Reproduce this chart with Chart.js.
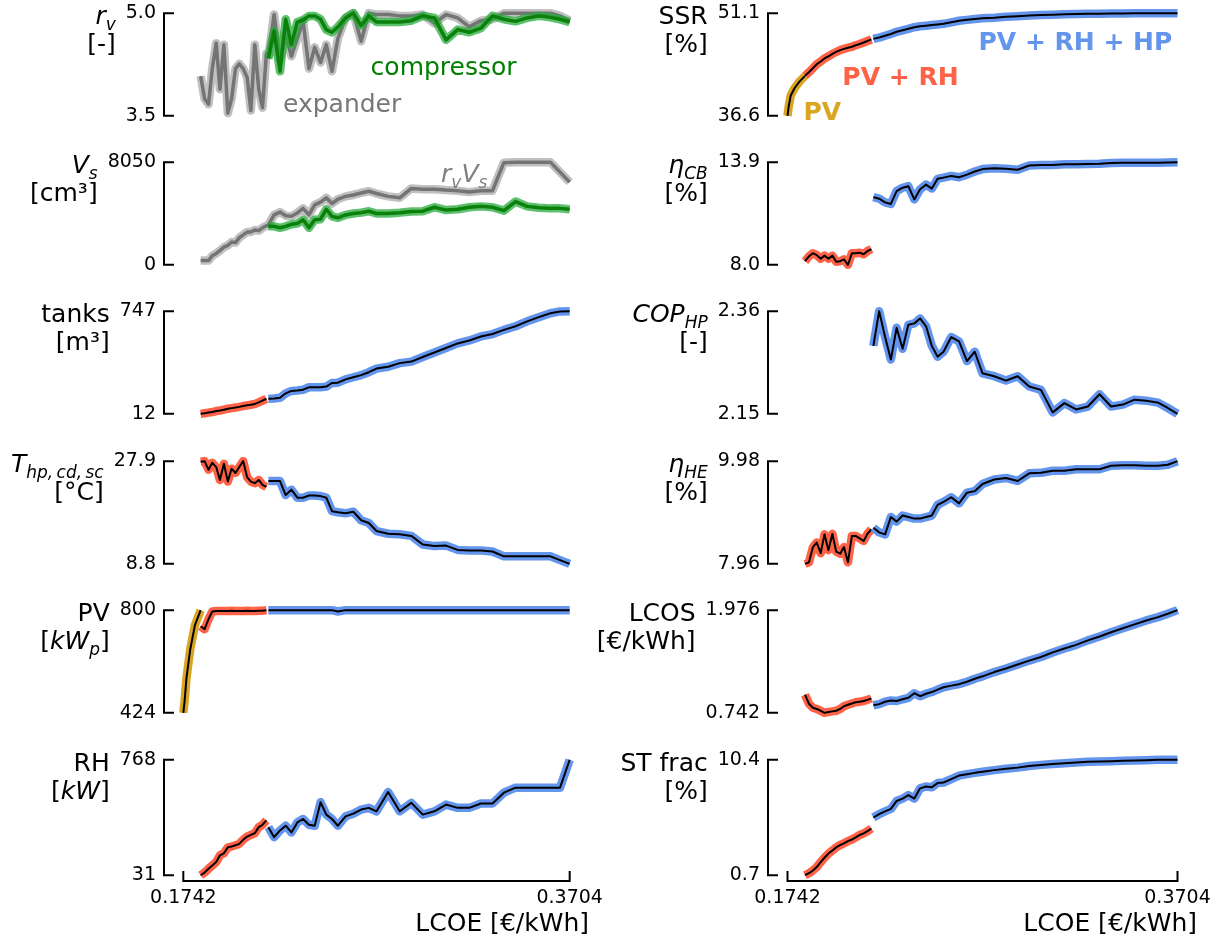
<!DOCTYPE html>
<html lang="en">
<head>
<meta charset="UTF-8">
<title>Pareto front vs LCOE</title>
<script src="https://cdn.jsdelivr.net/npm/chart.js"></script>
<style>
  body { margin: 0; background: #fff; }
  #fig { position: relative; width: 1222px; height: 939px; overflow: hidden; }
</style>
</head>
<body>
<div id="fig"></div>
<script>
// LCOE of the designs on the front, per technology stage
const lcoePV = [0.1742, 0.1748, 0.1758, 0.1777, 0.1801, 0.1830];
const lcoeRH = [0.1830, 0.1850, 0.1870, 0.1889, 0.1909, 0.1928, 0.1948, 0.1968, 0.1987, 0.2007,
  0.2026, 0.2046, 0.2066, 0.2085, 0.2105, 0.2125, 0.2144, 0.2164];
const lcoeHP = [0.2174, 0.2203, 0.2233, 0.2262, 0.2291, 0.2321, 0.2350, 0.2380, 0.2409, 0.2439,
  0.2468, 0.2497, 0.2527, 0.2566, 0.2605, 0.2645, 0.2684, 0.2723, 0.2782, 0.2841,
  0.2900, 0.2958, 0.3017, 0.3076, 0.3135, 0.3194, 0.3253, 0.3312, 0.3370, 0.3429,
  0.3488, 0.3547, 0.3606, 0.3655, 0.3704];
const xTicks = [0.1742, 0.3704];
const xTickLabels = ['0.1742', '0.3704'];

// volume ratio
const rvExpRH = [4.08, 3.75, 3.67, 4.19, 4.56, 3.89, 4.54, 3.54, 3.75, 4.19, 4.26, 4.19, 4.06, 3.58, 4.54, 3.89, 3.62, 4.41];
const rvExpHP = [4.37, 4.98, 4.32, 4.67, 4.37, 4.63, 4.89, 4.19, 4.50, 4.28, 4.54, 4.15, 4.63, 4.93, 5.0, 4.59, 5.0, 4.98,
  4.98, 4.96, 4.96, 4.98, 4.85, 4.98, 4.93, 4.80, 4.89, 4.91, 5.0, 5.0, 5.0, 5.0, 5.0, 4.96, 4.89];
const rvComp = [4.34, 4.74, 4.15, 4.91, 4.54, 4.87, 4.90, 4.96, 4.96, 4.91, 4.76, 4.72, 4.80, 4.93, 5.0, 4.82, 4.96, 4.87,
  4.87, 4.87, 4.89, 4.96, 4.93, 4.61, 4.76, 4.72, 4.78, 4.96, 4.91, 4.88, 4.93, 4.96, 4.94, 4.91, 4.87];
const rvTicks = [3.5, 5.0], rvTickLabels = ['3.5', '5.0'];

// swept volume
const vsExpRH = [335, 335, 335, 716, 894, 1118, 1386, 1520, 1789, 1744, 2124, 2348, 2571, 2571, 2728, 2683, 2907, 3063];
const vsExpHP = [3130, 3913, 4137, 3846, 3801, 4070, 4427, 3913, 4696, 4919, 5255, 4807, 5143, 5366, 5478, 5635, 5769, 5590,
  5366, 5255, 5992, 5925, 5925, 5858, 5814, 5702, 5814, 5814, 8005, 8050, 8050, 8050, 8050, 7267, 6484];
const vsComp = [3019, 3019, 2907, 3019, 3175, 3242, 3533, 2907, 3533, 3578, 4360, 3801, 3689, 3913, 4025, 4092, 4204, 4025,
  4025, 4092, 4181, 4204, 4517, 4293, 4360, 4517, 4584, 4517, 4248, 4964, 4584, 4472, 4427, 4427, 4360];
const vsTicks = [0, 8050], vsTickLabels = ['0', '8050'];

// tanks volume
const tanksRH = [12, 16, 21, 25, 32, 36, 42, 49, 53, 57, 62, 68, 73, 77, 83, 94, 107, 120];
const tanksHP = [120, 122, 127, 159, 176, 179, 185, 202, 202, 202, 207, 233, 235, 259, 274, 289, 310, 336,
  349, 375, 386, 419, 451, 483, 516, 537, 566, 583, 613, 639, 674, 704, 732, 745, 747];
const tanksTicks = [12, 747], tanksTickLabels = ['12', '747'];

// heat pump subcooling temperature
const tempRH = [27.8, 27.9, 26.3, 27.6, 26.8, 24.4, 27.4, 24.1, 26.5, 25.7, 26.8, 27.9, 24.9, 24.1, 23.8, 24.4, 23.5, 23.1];
const tempHP = [24.2, 24.2, 24.2, 21.6, 22.6, 21.1, 21.1, 21.5, 21.5, 21.4, 21.1, 18.6, 18.4, 18.2, 18.5, 16.9, 16.4, 14.9,
  14.4, 14.3, 14.0, 12.4, 12.1, 12.2, 11.4, 11.3, 11.3, 11.1, 10.2, 10.2, 10.2, 10.2, 10.2, 9.5, 8.8];
const tempTicks = [8.8, 27.9], tempTickLabels = ['8.8', '27.9'];

// PV peak power
const pvPV = [424, 463, 551, 656, 745, 800];
const pvRH = [741, 730, 767, 795, 797, 797, 797, 797, 798, 797, 797, 797, 798, 797, 797, 798, 798, 800];
const pvHP = [800, 800, 800, 800, 800, 800, 800, 800, 800, 800, 800, 800, 795, 800, 800, 800, 800, 800,
  800, 800, 800, 800, 800, 800, 800, 800, 800, 800, 800, 800, 800, 800, 800, 800, 800];
const pvTicks = [424, 800], pvTickLabels = ['424', '800'];

// resistance heater power
const rhRH = [31, 48, 72, 93, 115, 158, 171, 209, 214, 222, 231, 257, 278, 289, 300, 338, 353, 381];
const rhHP = [338, 274, 317, 347, 304, 368, 390, 353, 347, 497, 418, 390, 347, 407, 424, 450, 461, 439,
  562, 439, 493, 418, 439, 482, 461, 461, 489, 489, 558, 590, 590, 590, 590, 590, 768];
const rhTicks = [31, 768], rhTickLabels = ['31', '768'];

// self-sufficiency ratio
const ssrPV = [36.6, 37.9, 39.45, 40.5, 41.4, 42.25];
const ssrRH = [42.25, 42.77, 43.33, 43.89, 44.28, 44.71, 45.01, 45.36, 45.62, 45.88, 46.05, 46.22, 46.35, 46.57, 46.74, 46.96, 47.17, 47.39];
const ssrHP = [47.47, 47.65, 47.91, 48.16, 48.47, 48.68, 48.89, 49.11, 49.24, 49.33, 49.42, 49.50, 49.59, 49.80, 50.02, 50.15, 50.28, 50.37,
  50.45, 50.58, 50.67, 50.75, 50.84, 50.88, 50.93, 50.97, 51.01, 51.01, 51.06, 51.06, 51.08, 51.09, 51.1, 51.1, 51.1];
const ssrTicks = [36.6, 51.1], ssrTickLabels = ['36.6', '51.1'];

// Carnot battery efficiency
const etaCbRH = [8.21, 8.49, 8.67, 8.56, 8.35, 8.53, 8.35, 8.53, 8.18, 8.21, 8.32, 8.0, 8.67, 8.67, 8.70, 8.61, 8.79, 8.91];
const etaCbHP = [11.89, 11.80, 11.59, 11.50, 12.24, 12.43, 12.52, 11.76, 12.34, 12.61, 12.38, 12.94, 13.01, 13.11, 13.03, 13.18, 13.36, 13.50,
  13.55, 13.52, 13.46, 13.71, 13.74, 13.74, 13.78, 13.78, 13.80, 13.81, 13.85, 13.87, 13.87, 13.87, 13.87, 13.88, 13.9];
const etaCbTicks = [8.0, 13.9], etaCbTickLabels = ['8.0', '13.9'];

// heat pump COP
const copHP = [2.289, 2.36, 2.307, 2.261, 2.326, 2.283, 2.332, 2.335, 2.345, 2.329, 2.289, 2.267, 2.277, 2.307, 2.298, 2.258, 2.277, 2.233,
  2.227, 2.218, 2.227, 2.206, 2.199, 2.153, 2.172, 2.159, 2.165, 2.19, 2.165, 2.169, 2.179, 2.177, 2.173, 2.162, 2.15];
const copTicks = [2.15, 2.36], copTickLabels = ['2.15', '2.36'];

// heat engine efficiency
const etaHeRH = [7.96, 7.99, 8.29, 8.38, 8.17, 8.54, 8.23, 8.55, 8.20, 8.16, 8.29, 7.99, 8.51, 8.51, 8.46, 8.41, 8.55, 8.64];
const etaHeHP = [8.67, 8.58, 8.54, 8.88, 8.79, 8.91, 8.88, 8.85, 8.85, 8.88, 8.91, 9.12, 9.18, 9.27, 9.15, 9.36, 9.39, 9.53,
  9.62, 9.65, 9.59, 9.74, 9.75, 9.79, 9.79, 9.82, 9.82, 9.82, 9.89, 9.90, 9.90, 9.89, 9.89, 9.91, 9.98];
const etaHeTicks = [7.96, 9.98], etaHeTickLabels = ['7.96', '9.98'];

// levelized cost of storage
const lcosRH = [0.960, 0.851, 0.804, 0.789, 0.767, 0.742, 0.753, 0.760, 0.767, 0.789, 0.822, 0.840, 0.855, 0.869, 0.876, 0.884, 0.898, 0.916];
const lcosHP = [0.833, 0.847, 0.876, 0.891, 0.884, 0.905, 0.923, 0.978, 0.942, 0.971, 0.992, 1.021, 1.050, 1.069, 1.087, 1.116, 1.152, 1.181,
  1.232, 1.275, 1.323, 1.370, 1.413, 1.468, 1.515, 1.559, 1.613, 1.660, 1.711, 1.758, 1.805, 1.852, 1.892, 1.932, 1.976];
const lcosTicks = [0.742, 1.976], lcosTickLabels = ['0.742', '1.976'];

// storage fraction
const stRH = [0.7, 0.87, 1.10, 1.39, 1.80, 2.17, 2.52, 2.78, 3.04, 3.24, 3.38, 3.56, 3.70, 3.88, 4.08, 4.22, 4.40, 4.63];
const stHP = [5.55, 5.84, 6.07, 6.27, 6.94, 7.14, 7.43, 7.14, 8.00, 8.15, 8.09, 8.44, 8.49, 8.78, 9.07, 9.19, 9.30, 9.39,
  9.53, 9.65, 9.74, 9.88, 9.97, 10.05, 10.11, 10.17, 10.23, 10.26, 10.28, 10.31, 10.34, 10.37, 10.40, 10.40, 10.40];
const stTicks = [0.7, 10.4], stTickLabels = ['0.7', '10.4'];

const FONT = '"DejaVu Sans", sans-serif';
Chart.defaults.font.family = FONT;
Chart.defaults.color = '#000';

const C_PV = '#DAA520', C_RH = '#FF6347', C_HP = '#6495ED';
const X_LO = xTicks[0], X_HI = xTicks[1];
const TICK = 10;
const THIN = '\u2009';

function pts(x, y) { return x.map((v, i) => ({ x: v, y: y[i] })); }
function line(data, color, width) {
  return { data, borderColor: color, borderWidth: width, pointRadius: 0, tension: 0, fill: false,
    clip: false, borderJoinStyle: 'round', borderCapStyle: 'butt' };
}
// thick coloured band with the thin black curve on top
function band(x, y, color) { return [line(pts(x, y), color, 8.5), line(pts(x, y), '#000', 2)]; }
// grey / green curves with a light halo
function halo(x, y, inner, outer) { return [line(pts(x, y), outer, 8.5), line(pts(x, y), inner, 3.5)]; }

const GRAY = ['#747474', 'rgba(150,150,150,0.6)'];
const GREEN = ['#0b800b', 'rgba(40,170,60,0.75)'];

const panels = [
  { col: 0, row: 0, yTicks: rvTicks, yLabels: rvTickLabels,
    title: [{ t: 'r', i: 1 }, { t: 'v', i: 1, s: 1 }], unit: [{ t: '[-]' }],
    series: [halo(lcoeRH.concat(lcoeHP), rvExpRH.concat(rvExpHP), ...GRAY), halo(lcoeHP, rvComp, ...GREEN)],
    notes: [{ runs: [{ t: 'compressor' }], x: 0.2693, y: 4.10, color: '#008000' },
            { runs: [{ t: 'expander' }], x: 0.2248, y: 3.55, color: '#777777' }] },
  { col: 0, row: 1, yTicks: vsTicks, yLabels: vsTickLabels,
    title: [{ t: 'V', i: 1 }, { t: 's', i: 1, s: 1 }], unit: [{ t: '[cm³]' }],
    series: [halo(lcoeRH.concat(lcoeHP), vsExpRH.concat(vsExpHP), ...GRAY), halo(lcoeHP, vsComp, ...GREEN)],
    notes: [{ runs: [{ t: 'r', i: 1 }, { t: 'v', i: 1, s: 1 }, { t: 'V', i: 1 }, { t: 's', i: 1, s: 1 }], x: 0.3051, y: 6500, color: '#808080' }] },
  { col: 0, row: 2, yTicks: tanksTicks, yLabels: tanksTickLabels,
    title: [{ t: 'tanks' }], unit: [{ t: '[m³]' }],
    series: [band(lcoeRH, tanksRH, C_RH), band(lcoeHP, tanksHP, C_HP)] },
  { col: 0, row: 3, yTicks: tempTicks, yLabels: tempTickLabels,
    title: [{ t: 'T', i: 1 }, { t: 'hp,' + THIN + 'cd,' + THIN + 'sc', i: 1, s: 1 }], unit: [{ t: '[°C]' }],
    series: [band(lcoeRH, tempRH, C_RH), band(lcoeHP, tempHP, C_HP)] },
  { col: 0, row: 4, yTicks: pvTicks, yLabels: pvTickLabels,
    title: [{ t: 'PV' }], unit: [{ t: '[' }, { t: 'kW', i: 1 }, { t: 'p', i: 1, s: 1 }, { t: ']' }],
    series: [band(lcoePV, pvPV, C_PV), band(lcoeRH, pvRH, C_RH), band(lcoeHP, pvHP, C_HP)] },
  { col: 0, row: 5, yTicks: rhTicks, yLabels: rhTickLabels,
    title: [{ t: 'RH' }], unit: [{ t: '[' }, { t: 'kW', i: 1 }, { t: ']' }],
    series: [band(lcoeRH, rhRH, C_RH), band(lcoeHP, rhHP, C_HP)] },
  { col: 1, row: 0, yTicks: ssrTicks, yLabels: ssrTickLabels,
    title: [{ t: 'SSR' }], unit: [{ t: '[%]' }],
    series: [band(lcoePV, ssrPV, C_PV), band(lcoeRH, ssrRH, C_RH), band(lcoeHP, ssrHP, C_HP)],
    notes: [{ runs: [{ t: 'PV', b: 1 }], x: 0.1822, y: 35.95, color: C_PV },
            { runs: [{ t: 'PV + RH', b: 1 }], x: 0.2018, y: 40.9, color: C_RH },
            { runs: [{ t: 'PV + RH + HP', b: 1 }], x: 0.2703, y: 45.85, color: C_HP }] },
  { col: 1, row: 1, yTicks: etaCbTicks, yLabels: etaCbTickLabels,
    title: [{ t: 'η', i: 1 }, { t: 'CB', i: 1, s: 1 }], unit: [{ t: '[%]' }],
    series: [band(lcoeRH, etaCbRH, C_RH), band(lcoeHP, etaCbHP, C_HP)] },
  { col: 1, row: 2, yTicks: copTicks, yLabels: copTickLabels,
    title: [{ t: 'COP', i: 1 }, { t: 'HP', i: 1, s: 1 }], unit: [{ t: '[-]' }],
    series: [band(lcoeHP, copHP, C_HP)] },
  { col: 1, row: 3, yTicks: etaHeTicks, yLabels: etaHeTickLabels,
    title: [{ t: 'η', i: 1 }, { t: 'HE', i: 1, s: 1 }], unit: [{ t: '[%]' }],
    series: [band(lcoeRH, etaHeRH, C_RH), band(lcoeHP, etaHeHP, C_HP)] },
  { col: 1, row: 4, yTicks: lcosTicks, yLabels: lcosTickLabels,
    title: [{ t: 'LCOS' }], unit: [{ t: '[€/kWh]' }],
    series: [band(lcoeRH, lcosRH, C_RH), band(lcoeHP, lcosHP, C_HP)] },
  { col: 1, row: 5, yTicks: stTicks, yLabels: stTickLabels,
    title: [{ t: 'ST frac' }], unit: [{ t: '[%]' }],
    series: [band(lcoeRH, stRH, C_RH), band(lcoeHP, stHP, C_HP)] }
];

// page layout
const COLS = [{ left: 0, width: 620, axesLeft: 164, axesRight: 589 },
              { left: 580, width: 642, axesLeft: 188, axesRight: 617 }];
const ROWS = [0, 149, 298, 448, 597, 746];
const AXES_TOP = 8, AXES_H = 127;

function runFont(r, size) {
  return (r.i ? 'italic ' : '') + (r.b ? 'bold ' : '') + (r.s ? size * 0.68 : size) + 'px ' + FONT;
}
function drawRuns(ctx, runs, x, y, size, align) {
  let w = 0;
  runs.forEach(r => { ctx.font = runFont(r, size); w += ctx.measureText(r.t).width; });
  let cx = align === 'right' ? x - w : x;
  ctx.textAlign = 'left';
  ctx.textBaseline = 'alphabetic';
  runs.forEach(r => {
    ctx.font = runFont(r, size);
    ctx.fillText(r.t, cx, y + (r.s ? size * 0.24 : 0));
    cx += ctx.measureText(r.t).width;
  });
}

function frame(p, bottom) {
  return {
    id: 'frame',
    afterDatasetsDraw(chart) {
      const { ctx, chartArea: a, scales: { x, y } } = chart;
      const yHi = y.getPixelForValue(p.yTicks[1]), yLo = y.getPixelForValue(p.yTicks[0]);
      ctx.save();
      ctx.strokeStyle = '#000';
      ctx.lineWidth = 2;
      ctx.beginPath();
      ctx.moveTo(a.left + TICK, yHi);
      ctx.lineTo(a.left, yHi);
      ctx.lineTo(a.left, yLo);
      ctx.lineTo(a.left + TICK, yLo);
      ctx.stroke();
      if (bottom) {
        const x0 = x.getPixelForValue(xTicks[0]), x1 = x.getPixelForValue(xTicks[1]);
        ctx.beginPath();
        ctx.moveTo(x0, a.bottom - TICK);
        ctx.lineTo(x0, a.bottom);
        ctx.lineTo(x1, a.bottom);
        ctx.lineTo(x1, a.bottom - TICK);
        ctx.stroke();
      }
      ctx.font = '19px ' + FONT;
      const lw = Math.max(...p.yLabels.map(t => ctx.measureText(t).width));
      const xr = a.left - 8 - lw - 10;
      ctx.fillStyle = '#000';
      drawRuns(ctx, p.title, xr, yHi + 11, 25, 'right');
      drawRuns(ctx, p.unit, xr, yHi + 39, 25, 'right');
      (p.notes || []).forEach(n => {
        ctx.fillStyle = n.color;
        drawRuns(ctx, n.runs, x.getPixelForValue(n.x), y.getPixelForValue(n.y), 25, 'left');
      });
      ctx.restore();
    }
  };
}

// keep the tick labels from pushing the plot area around
function noPad(s) { s.paddingTop = 0; s.paddingBottom = 0; s.paddingLeft = 0; s.paddingRight = 0; }

const fig = document.getElementById('fig');
panels.forEach(p => {
  const col = COLS[p.col];
  const bottom = p.row === 5;
  const h = bottom ? 193 : 149;
  const canvas = document.createElement('canvas');
  canvas.width = col.width;
  canvas.height = h;
  canvas.style.cssText = `position:absolute;left:${col.left}px;top:${ROWS[p.row]}px;width:${col.width}px;height:${h}px;`;
  fig.appendChild(canvas);

  const [lo, hi] = p.yTicks;
  const yPad = 0.05 * (hi - lo), xPad = 0.05 * (X_HI - X_LO);
  const datasets = p.series.flat();
  datasets.forEach((d, i) => { d.order = datasets.length - i; });

  new Chart(canvas, {
    type: 'line',
    data: { datasets },
    options: {
      responsive: false,
      animation: false,
      events: [],
      layout: {
        autoPadding: false,
        padding: { left: 0, top: AXES_TOP, right: col.width - col.axesRight, bottom: bottom ? 0 : h - AXES_TOP - AXES_H }
      },
      plugins: { legend: { display: false }, tooltip: { enabled: false } },
      scales: {
        x: {
          type: 'linear',
          min: X_LO - xPad,
          max: X_HI + xPad,
          display: bottom,
          grid: { display: false, drawTicks: false },
          border: { display: false },
          afterBuildTicks: s => { s.ticks = xTicks.map(v => ({ value: v })); },
          ticks: { padding: 6, color: '#000', font: { size: 19 }, maxRotation: 0, autoSkip: false,
                   callback: (v, i) => xTickLabels[i] },
          title: { display: true, text: 'LCOE [€/kWh]', align: 'end', color: '#000', font: { size: 25 },
                   padding: { top: 0, bottom: 0 } },
          afterFit: s => { s.height = h - AXES_TOP - AXES_H; noPad(s); }
        },
        y: {
          type: 'linear',
          min: lo - yPad,
          max: hi + yPad,
          grid: { display: false, drawTicks: false },
          border: { display: false },
          afterBuildTicks: s => { s.ticks = [{ value: lo }, { value: hi }]; },
          ticks: { padding: 8, color: '#000', font: { size: 19 }, autoSkip: false,
                   callback: (v, i) => p.yLabels[i] },
          afterFit: s => { s.width = col.axesLeft; noPad(s); }
        }
      }
    },
    plugins: [frame(p, bottom)]
  });
});
</script>
</body>
</html>
